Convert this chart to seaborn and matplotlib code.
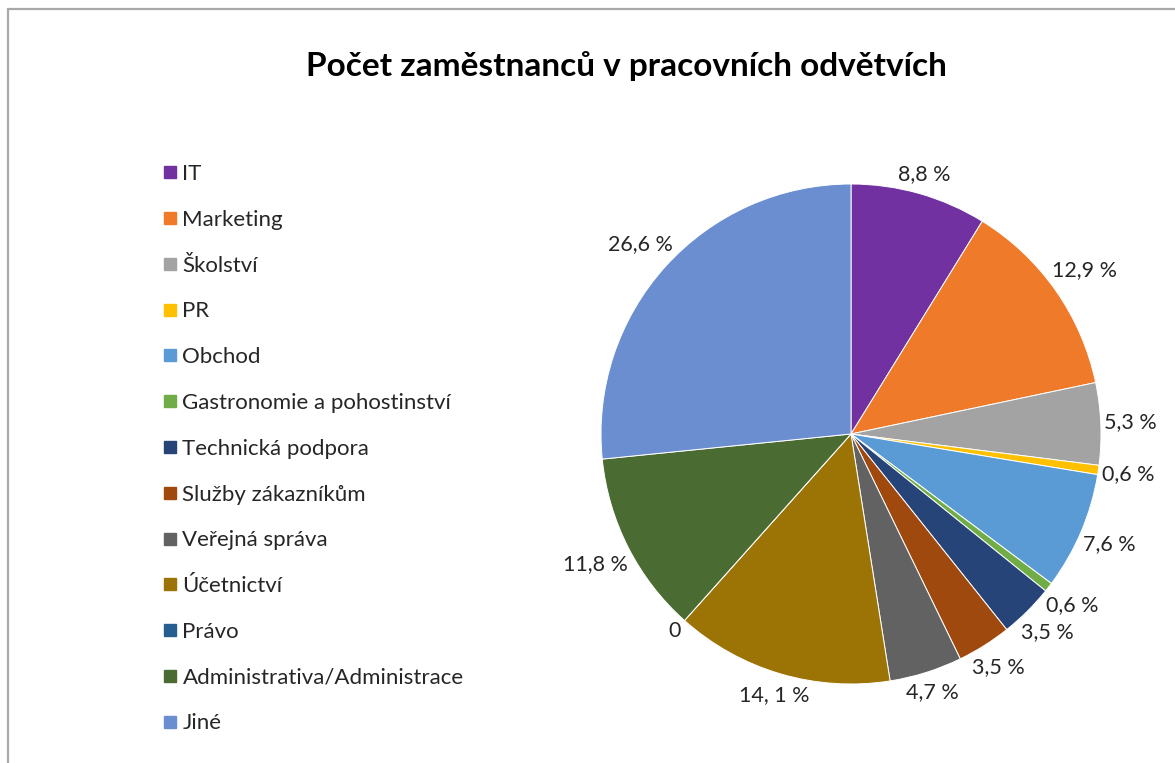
import numpy as np
import matplotlib
matplotlib.use("Agg")
import matplotlib.pyplot as plt
import seaborn as sns
from matplotlib.lines import Line2D

categories = ["IT", "Marketing", "Školství", "PR", "Obchod",
              "Gastronomie a pohostinství", "Technická podpora",
              "Služby zákazníkům", "Veřejná správa", "Účetnictví",
              "Právo", "Administrativa/Administrace", "Jiné"]
values = [8.8, 12.9, 5.3, 0.6, 7.6, 0.6, 3.5, 3.5, 4.7, 14.1, 0.0, 11.8, 26.6]
value_labels = ["8,8 %", "12,9 %", "5,3 %", "0,6 %", "7,6 %", "0,6 %", "3,5 %",
                "3,5 %", "4,7 %", "14, 1 %", "0", "11,8 %", "26,6 %"]
colors = ["#7131A1", "#EE7A2A", "#A3A3A3", "#FFC000", "#5B9BD5", "#70AD47",
          "#264478", "#A0490F", "#626262", "#9C7305", "#255E91", "#4A6C33",
          "#6A8ED0"]
title = "Počet zaměstnanců v pracovních odvětvích"

sns.set_theme(style="white")
plt.rcParams["font.family"] = ["Lato", "DejaVu Sans"]

W, H = 1175, 763
fig = plt.figure(figsize=(W / 100, H / 100), dpi=100)
palette = sns.color_palette(colors)

cx, cy, R = 851, 763 - 434, 250
half = 1.3 * R
ax = fig.add_axes([(cx - half) / W, (cy - half) / H, 2 * half / W, 2 * half / H])
wedges, _ = ax.pie(values, colors=palette, startangle=90, counterclock=False,
                   radius=1.0, wedgeprops=dict(edgecolor="white", linewidth=0.7))
ax.set_xlim(-1.3, 1.3)
ax.set_ylim(-1.3, 1.3)
ax.set_aspect("equal")
ax.axis("off")

fig.canvas.draw()
renderer = fig.canvas.get_renderer()
px_per_unit = R  # 1 data unit = R pixels
for w, lab in zip(wedges, value_labels):
    th = np.deg2rad((w.theta1 + w.theta2) / 2)
    t = ax.text(0, 0, lab, ha="center", va="center", fontsize=15.5,
                color="#262626")
    bb = t.get_window_extent(renderer)
    ext = abs(np.cos(th)) * bb.width / 2 + abs(np.sin(th)) * bb.height / 2
    r = (R + 3 + ext) / px_per_unit
    t.set_position((r * np.cos(th), r * np.sin(th)))

fig.text(626 / W, 1 - 66 / H, title, ha="center", va="center",
         fontsize=24, fontweight="bold", color="black")

handles = [Line2D([0], [0], marker="s", linestyle="none", markersize=8.3,
                  markerfacecolor=c, markeredgecolor=c) for c in palette]
fig.legend(handles, categories, loc="upper left",
           bbox_to_anchor=(148 / W, 1 - 153 / H), frameon=False,
           fontsize=16, labelspacing=1.16, handletextpad=0.05,
           handlelength=1.0, borderpad=0, labelcolor="#262626")

# chart area border (top and left edges visible)
fig.add_artist(Line2D([7.5 / W, 1.0], [1 - 8.5 / H, 1 - 8.5 / H],
                      transform=fig.transFigure, color="#A9A9A9", linewidth=1.6))
fig.add_artist(Line2D([7.5 / W, 7.5 / W], [0.0, 1 - 8.5 / H],
                      transform=fig.transFigure, color="#A9A9A9", linewidth=1.6))

fig.savefig("out.png", dpi=100, facecolor="white")
